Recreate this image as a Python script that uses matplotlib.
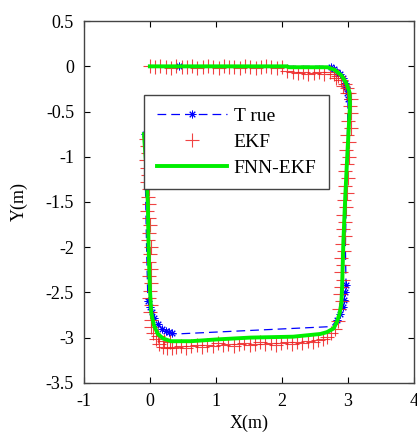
import numpy as np
import matplotlib.pyplot as plt

plt.rcParams['font.family'] = ['Liberation Serif', 'DejaVu Serif']

# reference trajectory (True)
true_x = [0.00, 0.44, 2.70, 2.74, 2.79, 2.84, 2.88, 2.92, 2.95, 2.97, 2.99, 3.00,
          2.98, 2.96, 2.97, 2.96, 2.94, 2.92, 2.88, 2.83, 2.77,
          2.70, 0.40, 0.34, 0.29, 0.24, 0.18, 0.12, 0.07, 0.03, 0.00, -0.03,
          -0.05, -0.07, -0.08]
true_y = [0.00, 0.00, 0.00, -0.01, -0.03, -0.06, -0.09, -0.13, -0.18, -0.23, -0.29, -0.36,
          -1.20, -2.00, -2.42, -2.50, -2.58, -2.66, -2.74, -2.81, -2.86,
          -2.88, -2.96, -2.95, -2.94, -2.93, -2.90, -2.85, -2.78, -2.72, -2.66, -2.60,
          -2.00, -1.20, -0.75]
true_marks = [1, 3, 4, 5, 6, 7, 8, 9, 10, 11, 14, 15, 16, 17, 18, 19,
              23, 24, 25, 26, 27, 28, 29, 30, 31, 34]

# EKF estimate
ekf_x = [0.00, 0.08, 0.16, 0.24, 0.32, 0.40, 0.48, 0.56, 0.64, 0.72, 0.80, 0.88,
         0.96, 1.04, 1.12, 1.20, 1.28, 1.36, 1.44, 1.52, 1.60, 1.68, 1.76, 1.84,
         1.92, 2.00, 2.08, 2.16, 2.24, 2.32, 2.40, 2.48, 2.56, 2.64,
         2.72, 2.79, 2.82, 2.85, 2.90, 2.93, 2.95, 2.99, 2.98, 3.02, 3.04,
         3.03, 3.05, 3.00, 3.04, 2.99, 3.02, 2.97, 3.01, 2.98, 2.96, 3.00, 2.95,
         2.99, 2.94, 2.97, 2.93, 2.96, 2.92, 2.95, 2.91, 2.94, 2.90, 2.93, 2.89,
         2.92, 2.90, 2.88, 2.91, 2.87,
         2.85, 2.80, 2.74, 2.68, 2.62,
         2.55, 2.47, 2.39, 2.31, 2.23, 2.15, 2.07, 1.99, 1.91, 1.83, 1.75, 1.67,
         1.59, 1.51, 1.43, 1.35, 1.27, 1.19, 1.11, 1.03, 0.95, 0.87, 0.79, 0.71,
         0.63, 0.55, 0.47,
         0.40, 0.33, 0.30, 0.26, 0.22, 0.20, 0.14, 0.12, 0.09, 0.05, 0.02, 0.01, 0.00,
         0.01, -0.02, 0.00, 0.02, -0.01, 0.01, -0.02, 0.00, 0.01, -0.03, -0.01, 0.00,
         -0.02, -0.04, -0.01, -0.03, -0.02, -0.05, -0.03, -0.04, -0.06, -0.03, -0.05, -0.06]
ekf_y = [0.00, -0.01, 0.00, -0.01, -0.02, 0.00, -0.01, -0.01, 0.00, -0.02, -0.01, 0.00,
         -0.01, -0.02, 0.00, -0.01, -0.01, -0.02, 0.00, -0.01, -0.02, -0.01, 0.00, -0.01,
         -0.02, -0.01, -0.05, -0.06, -0.07, -0.06, -0.08, -0.07, -0.06, -0.08,
         -0.06, -0.08, -0.13, -0.11, -0.15, -0.22, -0.19, -0.24, -0.30, -0.30, -0.36,
         -0.44, -0.52, -0.60, -0.68, -0.76, -0.84, -0.92, -1.00, -1.08, -1.16, -1.24, -1.32,
         -1.40, -1.48, -1.56, -1.64, -1.72, -1.80, -1.88, -1.96, -2.04, -2.12, -2.20, -2.28,
         -2.36, -2.44, -2.52, -2.60, -2.68,
         -2.82, -2.90, -2.95, -2.99, -3.02,
         -3.03, -3.05, -3.04, -3.06, -3.05, -3.07, -3.05, -3.06, -3.08, -3.06, -3.07, -3.05,
         -3.07, -3.08, -3.06, -3.07, -3.09, -3.07, -3.08, -3.06, -3.09, -3.08, -3.10, -3.08,
         -3.09, -3.11, -3.09,
         -3.10, -3.11, -3.05, -3.12, -3.04, -3.10, -3.07, -2.98, -3.02, -2.95, -2.88, -2.80, -2.72,
         -2.64, -2.56, -2.48, -2.40, -2.32, -2.24, -2.16, -2.08, -2.00, -1.92, -1.84, -1.76,
         -1.68, -1.60, -1.52, -1.44, -1.36, -1.28, -1.20, -1.12, -1.04, -0.96, -0.88, -0.80]

# FNN-EKF estimate
fnn_x = [0.00, 1.00, 2.08, 2.10, 2.69, 2.80, 2.90, 2.97, 3.02, 3.03,
         2.99, 2.96, 2.93, 2.91, 2.90, 2.87, 2.83, 2.78, 2.68, 2.58,
         2.17, 1.52, 1.02, 0.62, 0.32, 0.20, 0.12, 0.06, 0.02,
         0.00, -0.02, -0.03, -0.06, -0.09]
fnn_y = [0.00, 0.00, 0.00, -0.01, -0.01, -0.04, -0.10, -0.18, -0.28, -0.42,
         -0.97, -1.41, -1.93, -2.45, -2.62, -2.74, -2.83, -2.90, -2.94, -2.96,
         -2.99, -3.00, -3.02, -3.04, -3.04, -3.01, -2.96, -2.86, -2.72,
         -2.45, -2.01, -1.53, -1.05, -0.75]

fig = plt.figure(figsize=(4.17, 4.40), dpi=100)
ax = fig.add_axes([0.201, 0.130, 0.792, 0.822])

ax.plot(true_x, true_y, color='blue', linestyle=(0, (7, 4)), linewidth=0.9,
        marker=(8, 2, 0), markersize=5.5, markeredgewidth=0.7,
        markevery=true_marks, label='T rue')
ax.plot(ekf_x, ekf_y, linestyle='none', marker='+', color='#ee2222',
        markersize=10, markeredgewidth=0.8, alpha=0.85, label='EKF')
ax.plot(fnn_x, fnn_y, color='#00ee00', linewidth=2.8, label='FNN-EKF')

ax.set_xlim(-1, 4)
ax.set_ylim(-3.5, 0.5)
ax.set_xticks(np.arange(-1, 5, 1))
ax.set_yticks(np.arange(-3.5, 1.0, 0.5))
ax.set_xticklabels(['-1', '0', '1', '2', '3', '4'])
ax.set_yticklabels(['-3.5', '-3', '-2.5', '-2', '-1.5', '-1', '-0.5', '0', '0.5'])
ax.tick_params(direction='in', top=True, right=True, labelsize=13, length=4, pad=7)
for s in ax.spines.values():
    s.set_color('#444444')
    s.set_linewidth(1.0)

ax.set_xlabel('X(m)', fontsize=13, labelpad=4)
ax.set_ylabel('Y(m)', fontsize=13, labelpad=13)

leg = ax.legend(loc='upper left', bbox_to_anchor=(0.182, 0.796), fontsize=14,
                fancybox=False, edgecolor='#444444', framealpha=1,
                handlelength=3.6, handletextpad=0.36, labelspacing=0.42,
                borderpad=0.65, borderaxespad=0)
leg.get_frame().set_linewidth(1.0)

plt.savefig('out.png', dpi=100)
